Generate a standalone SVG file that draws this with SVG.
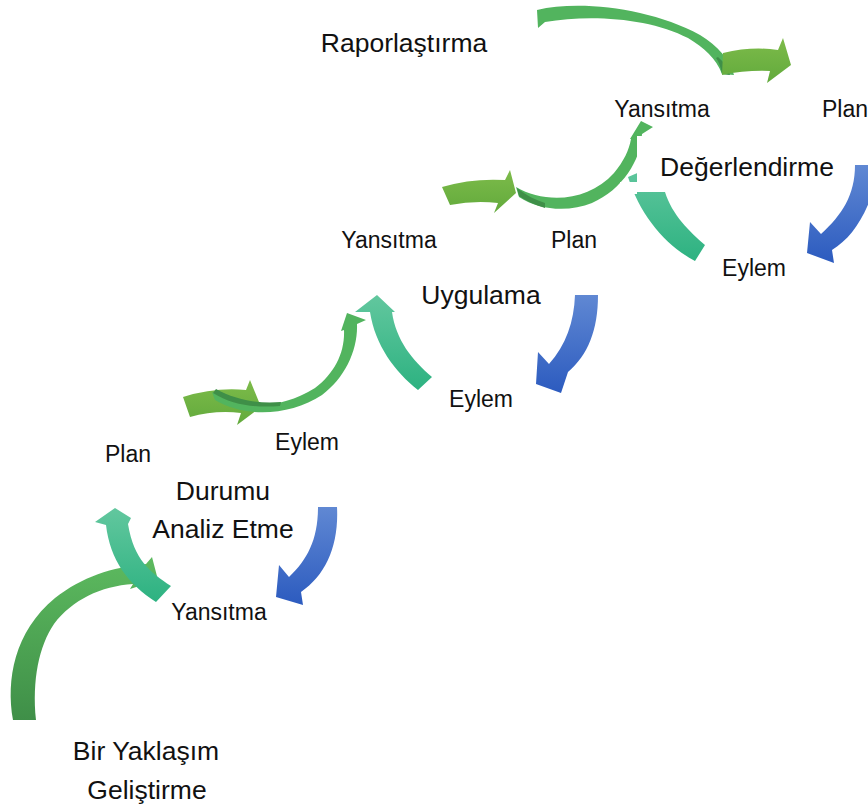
<svg xmlns="http://www.w3.org/2000/svg" width="868" height="811" viewBox="0 0 868 811">
  <style>
    text { font-family: "Liberation Sans", Arial, sans-serif; fill: #111; text-anchor: middle; }
    .lbl { font-size: 23px; }
    .ttl { font-size: 26.5px; }
  </style>
  <defs>
    <linearGradient id="gBig" x1="0" y1="0" x2="0" y2="1">
      <stop offset="0" stop-color="#5dba5f"/>
      <stop offset="1" stop-color="#3f8f48"/>
    </linearGradient>
    <linearGradient id="gTeal" x1="0" y1="0" x2="0" y2="1">
      <stop offset="0" stop-color="#62c79e"/>
      <stop offset="1" stop-color="#2db281"/>
    </linearGradient>
    <linearGradient id="gBlue" x1="0" y1="0" x2="0" y2="1">
      <stop offset="0" stop-color="#6088d3"/>
      <stop offset="1" stop-color="#2c5bbf"/>
    </linearGradient>
    <linearGradient id="gThick" x1="0" y1="0" x2="0" y2="1">
      <stop offset="0" stop-color="#7dbb4a"/>
      <stop offset="1" stop-color="#62aa3c"/>
    </linearGradient>
  </defs>

  <g id="connectors">
    <!-- large sweep from the bottom up into the first cycle -->
    <path fill="url(#gBig)" d="M 13,720 C 6,680 14,632 55,598 C 82,577 112,567 146,564 L 152,557 L 158,580 L 130,589 L 133,584 C 101,586 72,600 54,624 C 39,646 32,680 36,720 Z"/>

    <!-- cycle 1: Durumu Analiz Etme -->
    <path fill="url(#gTeal)" d="M 171,586 C 150,572 134,560 128,524 L 131,518 L 115,508 L 95,522 L 106,525 C 110,560 128,584 156,602 Z"/>
    <path fill="url(#gBlue)" d="M 318,507 L 337,507 C 339,545 326,575 301,592 L 303,605 L 276,597 L 279,565 L 289,577 C 307,560 318,540 318,507 Z"/>

    <!-- link from cycle 1 to cycle 2 -->
    <path fill="url(#gThick)" d="M 183,397 Q 215,387 246,390 L 250,380 L 261,407 L 237,425 L 241,413 Q 215,410 190,417 Z"/>
    <path fill="#52b45e" d="M 212,392 C 240,410 280,410 315,388 C 335,373 345,352 344,330 L 341,331 L 347,313 L 366,320 L 357,324 C 358,350 345,378 322,395 C 290,416 245,418 215,400 Z"/>
    <path fill="#3f8f48" d="M 213,393 C 232,405 255,408 280,406 L 281,402 C 258,404 236,400 216,389 Z"/>

    <!-- cycle 2: Uygulama -->
    <path fill="url(#gTeal)" d="M 432,377 C 412,360 396,340 392,312 L 395,312 L 377,295 L 355,312 L 370,312 C 375,345 395,372 418,390 Z"/>
    <path fill="url(#gBlue)" d="M 575,295 L 598,295 C 598,330 588,355 568,372 L 561,393 L 536,384 L 538,352 L 549,364 C 566,345 574,322 575,295 Z"/>

    <!-- link from cycle 2 to cycle 3 -->
    <path fill="url(#gThick)" d="M 442,187 Q 472,178 505,180 L 510,170 L 516,193 L 494,213 L 498,203 Q 475,200 450,205 Z"/>

    <!-- cycle 3: Değerlendirme -->
    <path fill="url(#gTeal)" d="M 705,245 C 690,232 672,215 665,192 L 656,165 L 628,177 C 640,215 665,245 695,261 Z"/>

    <path fill="#52b45e" d="M 516,187 C 545,204 588,202 614,173 C 624,161 629,150 631,139 L 630,139 L 641,121 L 653,127 L 642,134 C 641,160 622,190 592,203 C 570,212 540,211 519,197 Z"/>
    <path fill="#3f8f48" d="M 517,188 C 527,196 536,200 545,203 L 545,208 C 535,205 526,201 519,196 Z"/>

    <!-- text panel behind the cycle 3 title -->
    <rect x="637" y="136" width="231" height="56" fill="#ffffff"/>
    <rect x="620" y="182" width="17" height="12" fill="#ffffff"/>

    <path fill="url(#gBlue)" d="M 855,165 L 870,165 L 870,200 C 860,225 848,240 832,250 L 834,263 L 807,253 L 810,222 L 821,234 C 842,215 855,195 855,165 Z"/>

    <!-- sweep from the top title into the last cycle -->
    <path fill="#52b45e" d="M 537,10 C 580,0 650,8 700,35 C 718,46 730,60 734,75 L 722,74 C 716,58 704,48 688,38 C 650,18 590,14 545,22 L 538,28 Z"/>
    <path fill="#3f8f48" d="M 718,57 C 724,62 728,68 730,75 L 722,74 C 721,68 719,62 716,58 Z"/>
    <path fill="url(#gThick)" d="M 723,53 Q 752,46 778,50 L 783,38 L 791,65 L 767,83 L 770,71 Q 746,70 722,75 Z"/>
  </g>

  <g id="n-raporlastirma"><text class="ttl" x="404" y="52">Raporlaştırma</text></g>

  <g id="n-degerlendirme">
    <text class="ttl" x="747" y="176">Değerlendirme</text>
    <text class="lbl" x="662" y="117">Yansıtma</text>
    <text class="lbl" x="822" y="117" style="text-anchor:start">Plan</text>
    <text class="lbl" x="754" y="276">Eylem</text>
  </g>

  <g id="n-uygulama">
    <text class="ttl" x="481" y="304">Uygulama</text>
    <text class="lbl" x="389" y="248">Yansıtma</text>
    <text class="lbl" x="574" y="248">Plan</text>
    <text class="lbl" x="481" y="407">Eylem</text>
  </g>

  <g id="n-durumu">
    <text class="ttl" x="223" y="500">Durumu</text>
    <text class="ttl" x="223" y="538">Analiz Etme</text>
    <text class="lbl" x="128" y="462">Plan</text>
    <text class="lbl" x="307" y="450">Eylem</text>
    <text class="lbl" x="219" y="620">Yansıtma</text>
  </g>

  <g id="n-yaklasim">
    <text class="ttl" x="146" y="760">Bir Yaklaşım</text>
    <text class="ttl" x="147" y="799">Geliştirme</text>
  </g>
</svg>
